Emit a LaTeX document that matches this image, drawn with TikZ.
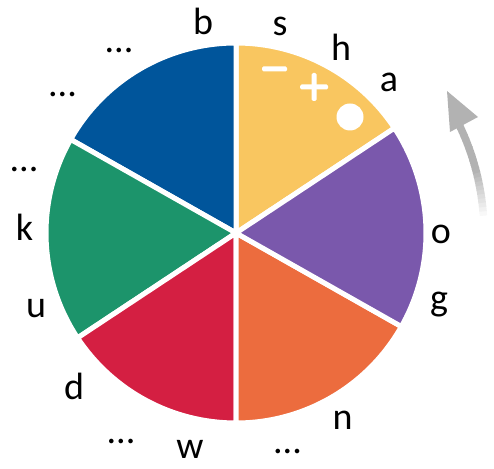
\documentclass[tikz,border=0pt]{standalone}
\usepackage{fontspec}
\setmainfont{Carlito}
\definecolor{cyel}{HTML}{F9C660}
\definecolor{cpur}{HTML}{7A58AC}
\definecolor{cora}{HTML}{EC6C3E}
\definecolor{cred}{HTML}{D41F42}
\definecolor{cgrn}{HTML}{1C946B}
\definecolor{cblu}{HTML}{00559B}
\begin{document}
\begin{tikzpicture}[x=1pt,y=1pt,
  slice/.style={draw=white,line width=5pt,line join=round},
  lab/.style={inner sep=0pt,font=\fontsize{38}{40}\selectfont},
  wmark/.style={fill=white,draw=none}]
\useasboundingbox (0,0) rectangle (494,468);
\coordinate (c) at (236,235);
\def\R{190}
\fill[cyel,slice] (c) -- ++(33.5:\R) arc[start angle=33.5,end angle=90,radius=\R] -- cycle;
\fill[cblu,slice] (c) -- ++(90:\R) arc[start angle=90,end angle=150.5,radius=\R] -- cycle;
\fill[cgrn,slice] (c) -- ++(150.5:\R) arc[start angle=150.5,end angle=213.5,radius=\R] -- cycle;
\fill[cred,slice] (c) -- ++(213.5:\R) arc[start angle=213.5,end angle=270,radius=\R] -- cycle;
\fill[cora,slice] (c) -- ++(270:\R) arc[start angle=270,end angle=330.5,radius=\R] -- cycle;
\fill[cpur,slice] (c) -- ++(-29.5:\R) arc[start angle=-29.5,end angle=33.5,radius=\R] -- cycle;
% marks in yellow slice
\fill[wmark,rounded corners=1.5pt] (262,396.5) rectangle (287,401.5);
\fill[wmark,rounded corners=1.5pt] (300,378.5) rectangle (328,383.5);
\fill[wmark,rounded corners=1.5pt] (311.5,367) rectangle (316.5,395);
\fill[wmark] (350,351) circle[radius=13.5];
% gray curved arrow
\foreach \a in {4,...,27}{
  \pgfmathsetmacro{\p}{min(100,(\a-3)*9)}
  \draw[line width=7.5pt,color=black!30!white!\p!white] (c) ++(\a:248) arc[start angle=\a,end angle=\a+1.2,radius=248];
}
\coordinate (tip) at (447,377);
\coordinate (bl) at (450,336);
\coordinate (br) at (478,351);
\fill[black!30] (tip) -- (bl) -- (br) -- cycle;
% labels
\node[lab] (lb) at (203,447) {b};
\node[lab] (ls) at (280,442) {s};
\node[lab] (lh) at (341,421) {h};
\node[lab] (la) at (389,386) {a};
\node[lab] (lo) at (441,234) {o};
\node[lab] (lg) at (439,163) {g};
\node[lab] (ln) at (342.5,48) {n};
\node[lab] (d1) at (287.5,17) {...};
\node[lab] (lw) at (190,19) {w};
\node[lab] (d2) at (121,26.5) {...};
\node[lab] (ld) at (74,81.5) {d};
\node[lab] (lu) at (36,159) {u};
\node[lab] (lk) at (24.5,240.5) {k};
\node[lab] (d3) at (24,298.5) {...};
\node[lab] (d4) at (62.5,373.5) {...};
\node[lab] (d5) at (119,417.5) {...};
\end{tikzpicture}
\end{document}
